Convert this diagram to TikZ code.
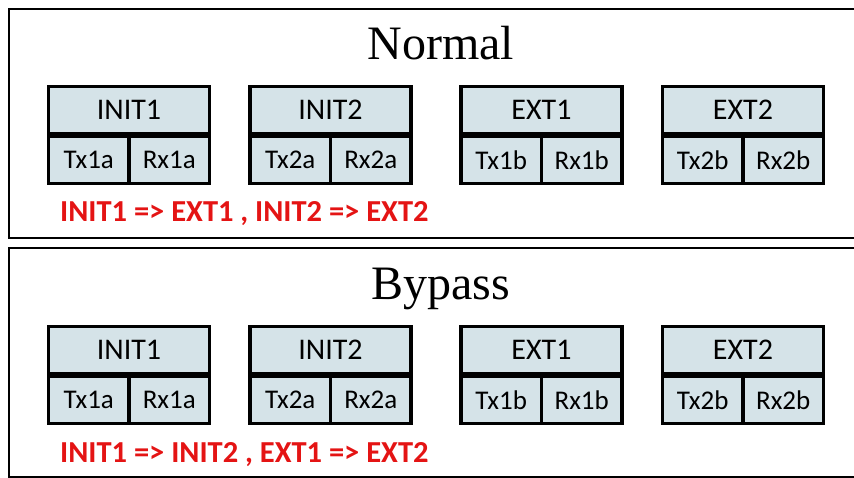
\documentclass[tikz,border=0pt]{standalone}
\usepackage{fontspec}
\setmainfont{Carlito}
\newfontfamily\titlefont{Liberation Serif}
\usetikzlibrary{positioning}

\definecolor{cellblue}{RGB}{213,227,232}
\definecolor{mapred}{RGB}{228,20,20}

\tikzset{
  panel/.style={draw, line width=2.5pt},
  head/.style={draw, line width=3.2pt, fill=cellblue, minimum width=161pt, minimum height=47pt, inner sep=0pt, font=\fontsize{30}{32}\selectfont},
  port/.style={draw, line width=3.2pt, fill=cellblue, minimum width=80.5pt, minimum height=47pt, inner sep=0pt, font=\fontsize{27}{30}\selectfont},
  title/.style={font=\titlefont\fontsize{48}{52}\selectfont, anchor=base},
  mapping/.style={text=mapred, font=\bfseries\fontsize{30.5}{34}\selectfont, anchor=base west, inner sep=0pt}
}

\begin{document}
\begin{tikzpicture}[x=1pt,y=-1pt]
  \useasboundingbox (0,0) rectangle (854,478);

  % normal panel
  \draw[panel] (9,9) rectangle (880,238);
  \node[title] (normal) at (441,60) {Normal};

  \node[head] (n_init1) at (129,110) {INIT1};
  \node[port, below=0pt of n_init1.south west, anchor=north west] (n_tx1a) {Tx1a};
  \node[port, below=0pt of n_init1.south east, anchor=north east] (n_rx1a) {Rx1a};

  \node[head] (n_init2) at (330.5,110) {INIT2};
  \node[port, below=0pt of n_init2.south west, anchor=north west] (n_tx2a) {Tx2a};
  \node[port, below=0pt of n_init2.south east, anchor=north east] (n_rx2a) {Rx2a};

  \node[head] (n_ext1) at (541.5,110) {EXT1};
  \node[port, below=0pt of n_ext1.south west, anchor=north west] (n_tx1b) {Tx1b};
  \node[port, below=0pt of n_ext1.south east, anchor=north east] (n_rx1b) {Rx1b};

  \node[head] (n_ext2) at (743,110) {EXT2};
  \node[port, below=0pt of n_ext2.south west, anchor=north west] (n_tx2b) {Tx2b};
  \node[port, below=0pt of n_ext2.south east, anchor=north east] (n_rx2b) {Rx2b};

  \node[mapping] (n_map) at (60,222) {INIT1 => EXT1 , INIT2 => EXT2};

  % bypass panel
  \draw[panel] (9,248) rectangle (880,477);
  \node[title] (bypass) at (441,300) {Bypass};

  \node[head] (b_init1) at (129,350) {INIT1};
  \node[port, below=0pt of b_init1.south west, anchor=north west] (b_tx1a) {Tx1a};
  \node[port, below=0pt of b_init1.south east, anchor=north east] (b_rx1a) {Rx1a};

  \node[head] (b_init2) at (330.5,350) {INIT2};
  \node[port, below=0pt of b_init2.south west, anchor=north west] (b_tx2a) {Tx2a};
  \node[port, below=0pt of b_init2.south east, anchor=north east] (b_rx2a) {Rx2a};

  \node[head] (b_ext1) at (541.5,350) {EXT1};
  \node[port, below=0pt of b_ext1.south west, anchor=north west] (b_tx1b) {Tx1b};
  \node[port, below=0pt of b_ext1.south east, anchor=north east] (b_rx1b) {Rx1b};

  \node[head] (b_ext2) at (743,350) {EXT2};
  \node[port, below=0pt of b_ext2.south west, anchor=north west] (b_tx2b) {Tx2b};
  \node[port, below=0pt of b_ext2.south east, anchor=north east] (b_rx2b) {Rx2b};

  \node[mapping] (b_map) at (60,462) {INIT1 => INIT2 , EXT1 => EXT2};
\end{tikzpicture}
\end{document}
